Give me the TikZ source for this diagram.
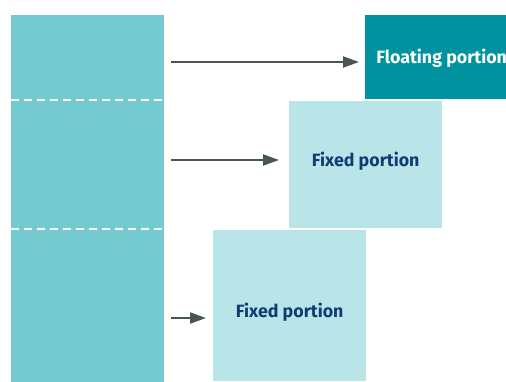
\documentclass[tikz,border=0pt]{standalone}
\usepackage{fontspec}
\setmainfont{Fira Sans}
\usetikzlibrary{arrows.meta}

\definecolor{tealmid}{RGB}{116,202,208}
\definecolor{teallight}{RGB}{185,228,232}
\definecolor{tealdark}{RGB}{0,147,159}
\definecolor{navytext}{RGB}{16,60,118}
\definecolor{arrowgray}{RGB}{74,85,88}

\tikzset{
  labelfont/.style={font=\fontsize{17.8}{20}\selectfont\bfseries},
  portion/.style={rectangle, inner sep=0pt, minimum width=153pt, labelfont},
  fixedbox/.style={portion, fill=teallight, text=navytext},
  floatbox/.style={portion, fill=tealdark, text=white},
  arr/.style={draw=arrowgray, line width=2pt,
    -{Triangle[length=16pt,width=11pt]}},
  cut/.style={draw=white, line width=2pt, dash pattern=on 8pt off 5pt}
}

\begin{document}
\begin{tikzpicture}[x=1pt,y=-1pt]
% page is 506 x 381, everything outside is cut off
\clip (0,0) rectangle (506,381);
\fill[white] (0,0) rectangle (506,381);

% the whole amount, split in three
\node[rectangle, fill=tealmid, inner sep=0pt, minimum width=153pt,
  minimum height=368pt, anchor=north west] (whole) at (11,15) {};
\coordinate (cut1w) at (11,100);
\coordinate (cut2w) at (11,229);
\draw[cut] (cut1w) -- (cut1w -| whole.east);
\draw[cut] (cut2w) -- (cut2w -| whole.east);

% the three portions, stepping down and to the left
\node[floatbox, minimum height=84pt, anchor=north west] (float)
  at (365,15) {};
\node[fixedbox, minimum height=127pt, anchor=north west] (fixedA)
  at (289,101) {};
\node[fixedbox, minimum height=151pt, anchor=north west] (fixedB)
  at (213,230) {};
% labels sit a bit off the middle
\node[labelfont, text=white] (floattext)
  at (float.north |- 0,58.5) {Floating portion};
\node[labelfont, text=navytext] (fixedAtext)
  at (fixedA.north |- 0,161) {Fixed portion};
\node[labelfont, text=navytext] (fixedBtext)
  at (fixedB.north |- 0,312) {Fixed portion};

% arrows from the column to each portion
\coordinate (a1) at (171,62);
\coordinate (a2) at (171,160);
\coordinate (a3) at (171,318);
\draw[arr, shorten >=6pt] (a1) -- (a1 -| float.west);
\draw[arr, shorten >=10pt] (a2) -- (a2 -| fixedA.west);
\draw[arr, shorten >=7pt] (a3) -- (a3 -| fixedB.west);
\end{tikzpicture}
\end{document}
